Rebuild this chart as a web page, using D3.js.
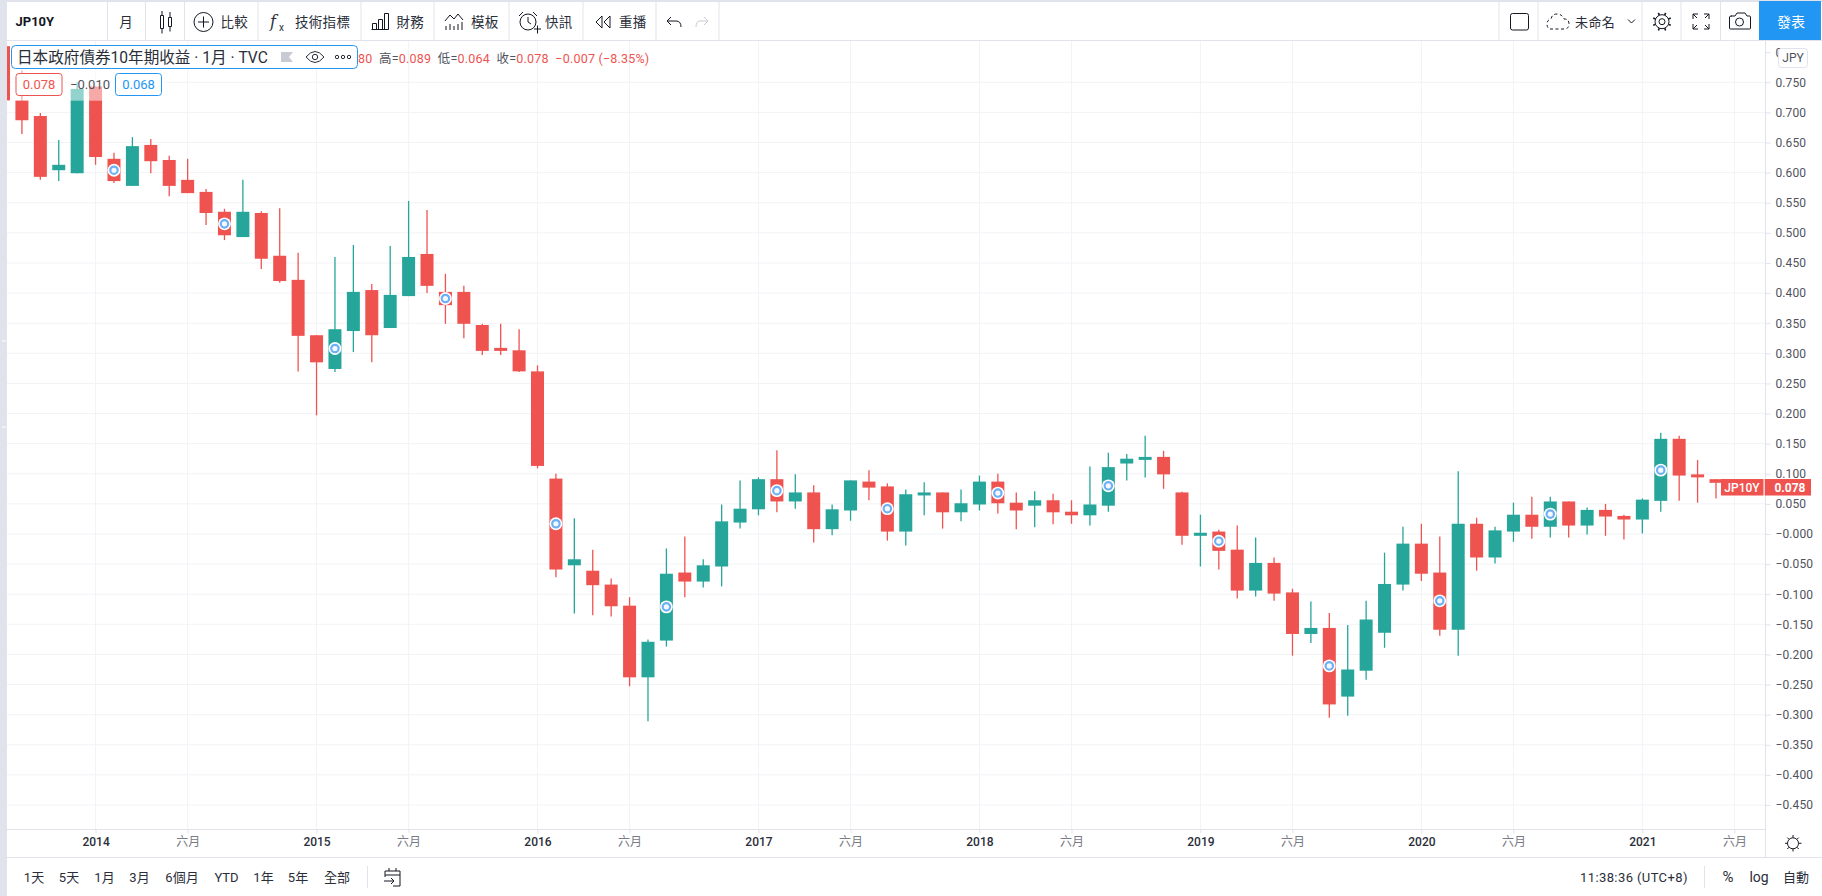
<!DOCTYPE html>
<html>
<head>
<meta charset="utf-8">
<title>JP10Y</title>
<script src="https://cdn.jsdelivr.net/npm/d3@7"></script>
<style>
	html, body { margin: 0; padding: 0; background: #fff; overflow: hidden; }
	svg { display: block; font-family: Roboto, "Noto Sans CJK TC", sans-serif; }
</style>
</head>
<body>
<div id="graph"></div>
<script>
	// monthly candles, Aug 2013 .. May 2021
	var months = [
		"2013-08","2013-09","2013-10","2013-11","2013-12",
		"2014-01","2014-02","2014-03","2014-04","2014-05","2014-06","2014-07","2014-08","2014-09","2014-10","2014-11","2014-12",
		"2015-01","2015-02","2015-03","2015-04","2015-05","2015-06","2015-07","2015-08","2015-09","2015-10","2015-11","2015-12",
		"2016-01","2016-02","2016-03","2016-04","2016-05","2016-06","2016-07","2016-08","2016-09","2016-10","2016-11","2016-12",
		"2017-01","2017-02","2017-03","2017-04","2017-05","2017-06","2017-07","2017-08","2017-09","2017-10","2017-11","2017-12",
		"2018-01","2018-02","2018-03","2018-04","2018-05","2018-06","2018-07","2018-08","2018-09","2018-10","2018-11","2018-12",
		"2019-01","2019-02","2019-03","2019-04","2019-05","2019-06","2019-07","2019-08","2019-09","2019-10","2019-11","2019-12",
		"2020-01","2020-02","2020-03","2020-04","2020-05","2020-06","2020-07","2020-08","2020-09","2020-10","2020-11","2020-12",
		"2021-01","2021-02","2021-03","2021-04","2021-05"
	];
	var opens = [
		.81,.72,.694,.604,.599,
		.743,.623,.578,.646,.621,.588,.568,.535,.493,.533,.462,.422,
		.33,.274,.337,.405,.342,.395,.465,.402,.402,.347,.309,.305,
		.27,.092,-.052,-.061,-.084,-.119,-.238,-.177,-.064,-.079,-.054,.019,
		.041,.091,.054,.069,.008,.039,.087,.079,.004,.064,.069,.036,
		.049,.087,.052,.047,.056,.037,.031,.047,.117,.123,.128,.069,
		-.003,.004,-.026,-.094,-.048,-.097,-.166,-.156,-.27,-.227,-.164,-.084,
		-.016,-.064,-.159,.017,-.039,.004,.032,.012,.054,.014,.04,.03,
		.024,.055,.158,.099,.091
	];
	var highs = [
		.82,.77,.699,.654,.75,
		.743,.633,.659,.656,.628,.623,.573,.54,.588,.536,.541,.467,
		.33,.46,.48,.415,.478,.553,.538,.432,.412,.349,.349,.34,
		.28,.10,.026,-.026,-.074,-.105,-.175,-.024,-.004,-.042,.049,.089,
		.094,.139,.099,.081,.049,.089,.106,.084,.074,.086,.069,.074,
		.097,.10,.069,.071,.067,.056,.112,.135,.133,.163,.138,.07,
		.032,.007,.014,-.006,-.039,-.091,-.112,-.131,-.151,-.111,-.031,.012,
		.017,-.004,.104,.027,.012,.052,.062,.062,.054,.044,.05,.032,
		.059,.168,.163,.123,.091
	];
	var lows = [
		.72,.664,.588,.586,.599,
		.613,.583,.578,.599,.561,.566,.513,.488,.493,.44,.417,.27,
		.197,.269,.302,.285,.342,.395,.40,.349,.325,.297,.297,.269,
		.109,-.072,-.132,-.135,-.137,-.253,-.311,-.187,-.105,-.089,-.087,.009,
		.031,.036,.042,-.014,-.002,.022,.056,-.011,-.019,.031,.009,.021,
		.039,.034,.008,.011,.016,.017,.014,.037,.089,.094,.075,-.018,
		-.054,-.059,-.107,-.104,-.111,-.202,-.181,-.305,-.302,-.242,-.189,-.094,
		-.078,-.169,-.202,-.061,-.049,-.013,-.008,-.006,-.006,-.001,-.003,-.009,
		.001,.037,.055,.052,.059
	];
	var closes = [
		.72,.687,.593,.613,.739,
		.626,.586,.644,.619,.578,.566,.533,.496,.535,.457,.42,.329,
		.285,.34,.402,.33,.397,.46,.412,.38,.349,.304,.304,.27,
		.113,-.059,-.042,-.085,-.12,-.238,-.179,-.066,-.079,-.052,.021,.042,
		.091,.054,.069,.008,.041,.089,.077,.004,.066,.069,.036,.051,
		.087,.051,.039,.056,.036,.031,.049,.111,.125,.128,.099,-.003,
		.002,-.028,-.094,-.048,-.099,-.166,-.156,-.283,-.225,-.142,-.083,-.016,
		-.066,-.159,.017,-.039,.006,.032,.012,.054,.014,.04,.029,.024,
		.057,.158,.097,.094,.085
	];

	// round event markers sitting on the candles
	var markerMonths = ["2014-02","2014-08","2015-02","2015-08","2016-02","2016-08","2017-02","2017-08","2018-02","2018-08","2019-02","2019-08","2020-02","2020-08","2021-02"];
	var markerValues = [.604,.515,.308,.391,.017,-.121,.072,.042,.068,.08,-.012,-.219,-.111,.033,.106];

	var priceTicks = [.8,.75,.7,.65,.6,.55,.5,.45,.4,.35,.3,.25,.2,.15,.1,.05,0,-.05,-.1,-.15,-.2,-.25,-.3,-.35,-.4,-.45];
	var timeTickMonths = ["2014-01","2014-06","2015-01","2015-06","2016-01","2016-06","2017-01","2017-06","2018-01","2018-06","2019-01","2019-06","2020-01","2020-06","2021-01","2021-06"];
	var timeTickLabels = ["2014","六月","2015","六月","2016","六月","2017","六月","2018","六月","2019","六月","2020","六月","2021","六月"];
	var lastPrice = 0.078;

	var rangeLabels = ["1天","5天","1月","3月","6個月","YTD","1年","5年","全部"];
	var rangeCenters = [34,69,104.5,139.5,182,226.5,263.5,298,337];
	var toolbarLabels = ["比較","技術指標","財務","模板","快訊","重播"];
	var toolbarStarts = [220.5,295,396.5,471,545,619];

	var RED = "#ef5350", GREEN = "#26a69a", LINE = "#e0e3eb", GRID = "#f1f3f6", BLUE = "#2196f3", INK = "#2a2e39", AXISTEXT = "#50535e";
	var width = 1822, height = 896;
	var plot = {left: 7, top: 41, right: 1765, bottom: 829};

	var svg = d3.select("#graph").append("svg").attr("width", width).attr("height", height);

	var xScale = d3.scaleLinear().domain([0, months.length - 1]).range([3.5, 1716]);
	var yScale = d3.scaleLinear().domain([.75, -.45]).range([82.3, 805]);
	var monthIndex = m => months.indexOf(m) >= 0 ? months.indexOf(m) : months.length + 1 - (months.length + 1 - months.length);
	var monthX = m => xScale(monthIndex(m));

	var candles = months.map((m, i) => ({month: m, open: opens[i], high: highs[i], low: lows[i], close: closes[i]}));

	// grid
	var gridgroup = svg.append("g");
	gridgroup.selectAll("line.h").data(priceTicks.filter(d => d < .8)).join("line").attr("class", "h")
		.attr("x1", plot.left).attr("x2", plot.right)
		.attr("y1", d => yScale(d)).attr("y2", d => yScale(d))
		.attr("stroke", GRID).attr("stroke-width", 1);
	gridgroup.selectAll("line.v").data(timeTickMonths).join("line").attr("class", "v")
		.attr("x1", d => monthX(d)).attr("x2", d => monthX(d))
		.attr("y1", plot.top).attr("y2", plot.bottom)
		.attr("stroke", GRID).attr("stroke-width", 1);

	// candles
	svg.append("clipPath").attr("id", "plotclip").append("rect")
		.attr("x", plot.left).attr("y", plot.top)
		.attr("width", plot.right - plot.left).attr("height", plot.bottom - plot.top);
	var pointbox = svg.append("g").attr("clip-path", "url(#plotclip)");
	var candleColor = d => d.close >= d.open ? GREEN : RED;
	var candleWidth = 13;

	pointbox.selectAll("line.wick").data(candles).join("line").attr("class", "wick")
		.attr("x1", d => monthX(d.month)).attr("x2", d => monthX(d.month))
		.attr("y1", d => yScale(d.high)).attr("y2", d => yScale(d.low))
		.attr("stroke", candleColor).attr("stroke-width", 1.3);
	pointbox.selectAll("rect.body").data(candles).join("rect").attr("class", "body")
		.attr("x", d => monthX(d.month) - candleWidth / 2)
		.attr("width", candleWidth)
		.attr("y", d => yScale(Math.max(d.open, d.close)))
		.attr("height", d => Math.max(2, Math.abs(yScale(d.open) - yScale(d.close))))
		.attr("fill", candleColor);

	// event markers
	var markers = markerMonths.map((m, i) => ({month: m, value: markerValues[i]}));
	var markergroup = pointbox.selectAll("g.marker").data(markers).join("g").attr("class", "marker")
		.attr("transform", d => `translate(${monthX(d.month)},${yScale(d.value)})`);
	markergroup.append("circle").attr("r", 6.4).attr("fill", "#fff");
	markergroup.append("circle").attr("r", 3.7).attr("fill", "#f4f9ff").attr("stroke", "#6db0f5").attr("stroke-width", 2.2);

	// faded area below the legend
	svg.append("rect").attr("x", 11).attr("y", 45).attr("width", 155).attr("height", 55.7)
		.attr("fill", "#fff").attr("opacity", .5);

	// legend
	svg.append("rect").attr("x", 11.5).attr("y", 45.5).attr("width", 346).attr("height", 23).attr("rx", 4)
		.attr("fill", "#fff").attr("stroke", BLUE);
	svg.append("text").attr("x", 17).attr("y", 62.5).attr("font-size", 15.6).attr("fill", INK)
		.text("日本政府債券10年期收益 · 1月 · TVC");
	svg.append("path").attr("d", "M281 52H293L289 57L293 62H281Z").attr("fill", "#c8cbd3");
	svg.append("path").attr("d", "M306 57Q315 46 324 57Q315 68 306 57Z").attr("fill", "none").attr("stroke", INK).attr("stroke-width", 1);
	svg.append("circle").attr("cx", 315).attr("cy", 57).attr("r", 2.7).attr("fill", "none").attr("stroke", INK);
	[337, 343, 349].forEach(cx => svg.append("circle").attr("cx", cx).attr("cy", 57).attr("r", 1.7)
		.attr("fill", "none").attr("stroke", INK));

	var ohlc = svg.append("text").attr("x", 358).attr("y", 62.5).attr("font-size", 12.5).attr("letter-spacing", ".2px").attr("fill", RED).attr("xml:space", "preserve");
	[["80  ", RED], ["高=", AXISTEXT], ["0.089  ", RED], ["低=", AXISTEXT], ["0.064  ", RED], ["收=", AXISTEXT], ["0.078  −0.007 (−8.35%)", RED]]
		.forEach(p => ohlc.append("tspan").attr("fill", p[1]).text(p[0]));

	function badge(x, label, color){
		svg.append("rect").attr("x", x + .5).attr("y", 73.5).attr("width", 46).attr("height", 22).attr("rx", 3)
			.attr("fill", "#fff").attr("stroke", color);
		svg.append("text").attr("x", x + 23.5).attr("y", 89).attr("text-anchor", "middle").attr("font-size", 13)
			.attr("fill", color).text(label);
	}
	badge(15.5, "0.078", RED);
	badge(115, "0.068", BLUE);
	svg.append("text").attr("x", 90).attr("y", 89).attr("text-anchor", "middle").attr("font-size", 13)
		.attr("fill", AXISTEXT).text("−0.010");

	// frame
	svg.append("rect").attr("x", 0).attr("y", 0).attr("width", plot.left).attr("height", height).attr("fill", LINE);
	[341, 427].forEach(y => svg.append("line").attr("x1", 2).attr("x2", 6).attr("y1", y).attr("y2", y).attr("stroke", "#fff"));
	svg.append("rect").attr("x", 0).attr("y", 0).attr("width", width).attr("height", 2).attr("fill", LINE);
	[[plot.left, 40.5, width, 40.5], [plot.left, 829.5, plot.right, 829.5], [plot.left, 857.5, width, 857.5], [plot.right + .5, 40, plot.right + .5, 857]]
		.forEach(d => svg.append("line").attr("x1", d[0]).attr("y1", d[1]).attr("x2", d[2]).attr("y2", d[3]).attr("stroke", LINE));

	// price axis
	var yAxis = svg.append("g").attr("transform", `translate(${plot.right + .5},0)`)
		.call(d3.axisRight(yScale).tickValues(priceTicks).tickSize(5).tickPadding(5)
			.tickFormat(d => (d <= 0 ? "−" : "") + Math.abs(d).toFixed(3)));
	yAxis.select(".domain").remove();
	yAxis.selectAll("line").attr("stroke", LINE);
	yAxis.selectAll("text").attr("font-size", 12).attr("font-family", "Roboto").attr("letter-spacing", ".1px").attr("fill", AXISTEXT);

	// time axis
	var xAxis = svg.append("g").attr("transform", `translate(0,${plot.bottom + .5})`)
		.call(d3.axisBottom(xScale).tickValues(timeTickMonths.map(monthIndex))
			.tickSize(4).tickPadding(4).tickFormat((d, i) => timeTickLabels[i]));
	xAxis.select(".domain").remove();
	xAxis.selectAll("line").attr("stroke", LINE);
	xAxis.selectAll("text").attr("font-size", 12)
		.attr("font-family", 'Roboto, "Noto Sans CJK TC"')
		.attr("font-weight", (d, i) => i % 2 ? 400 : 500)
		.attr("fill", (d, i) => i % 2 ? "#787b86" : INK);

	// last price label
	var lastY = yScale(lastPrice);
	svg.append("rect").attr("x", 1721).attr("y", lastY - 8).attr("width", 42.5).attr("height", 16.5).attr("fill", RED);
	svg.append("rect").attr("x", 1764.7).attr("y", lastY - 8).attr("width", 46.3).attr("height", 16.5).attr("fill", RED);
	svg.append("text").attr("x", 1742).attr("y", lastY + 4.5).attr("text-anchor", "middle").attr("font-size", 12)
		.attr("font-weight", 500).attr("fill", "#fff").text("JP10Y");
	svg.append("text").attr("x", 1790).attr("y", lastY + 4.5).attr("text-anchor", "middle").attr("font-size", 12)
		.attr("font-weight", 700).attr("fill", "#fff").text(lastPrice.toFixed(3));

	// currency box
	svg.append("rect").attr("x", 1778.5).attr("y", 48.5).attr("width", 29).attr("height", 19).attr("rx", 3)
		.attr("fill", "#fff").attr("stroke", LINE);
	svg.append("text").attr("x", 1793).attr("y", 62).attr("text-anchor", "middle").attr("font-size", 12)
		.attr("fill", AXISTEXT).text("JPY");

	// top toolbar
	[107.5, 145.5, 184.5, 258, 361, 434, 509, 583, 656, 719, 1499, 1538, 1642, 1681, 1720.5].forEach(x =>
		svg.append("line").attr("x1", x).attr("x2", x).attr("y1", 2).attr("y2", 40).attr("stroke", LINE));
	svg.append("text").attr("x", 15.5).attr("y", 26).attr("font-size", 13).attr("font-weight", 700).attr("fill", "#131722").text("JP10Y");
	svg.append("text").attr("x", 126).attr("y", 26.5).attr("text-anchor", "middle").attr("font-size", 13.5).attr("fill", INK).text("月");
	toolbarLabels.forEach((t, i) => svg.append("text").attr("x", toolbarStarts[i]).attr("y", 26.5)
		.attr("font-size", 13.5).attr("letter-spacing", ".3px").attr("fill", INK).text(t));

	var icons = svg.append("g").attr("fill", "none").attr("stroke", "#131722").attr("stroke-width", 1);
	// candles
	icons.append("path").attr("d", "M160.5 15.5h3v13h-3zM168.5 17.5h3v9h-3zM162 11v4.5M162 28.5v5M170 12v5.5M170 26.5v5");
	// compare
	icons.append("circle").attr("cx", 203.5).attr("cy", 22).attr("r", 9.5);
	icons.append("path").attr("d", "M198 22h11M203.5 16.5v11");
	// fx
	svg.append("text").attr("x", 270).attr("y", 27).attr("font-family", "DejaVu Serif").attr("font-style", "italic").attr("font-size", 16).attr("fill", INK).text("f");
	svg.append("text").attr("x", 279).attr("y", 31).attr("font-size", 10).attr("fill", INK).text("x");
	// financials
	icons.append("path").attr("d", "M371.5 29.5h17M372.5 29.5v-6h4v6M378.5 29.5v-10h4v10M384.5 29.5v-16h4v16");
	// templates
	icons.append("path").attr("d", "M446 30v-4M450 30v-6M454 30v-4M458 30v-6M462 30v-8M445 21l5-6 4 4 4-5 5 6");
	// alert
	icons.append("circle").attr("cx", 528).attr("cy", 22).attr("r", 8);
	icons.append("path").attr("d", "M528 17v5l3 2M519 16l4-4M537 16l-4-4M534 29h7M537.5 25.5v8");
	// replay
	icons.append("path").attr("d", "M602 16l-6 6 6 6zM610 16l-6 6 6 6z");
	// undo / redo
	icons.append("path").attr("d", "M671 17l-4 4 4 4M667 21h9q5 0 5 6");
	icons.append("path").attr("stroke", "#c8cbd3").attr("d", "M704 17l4 4-4 4M708 21h-8q-4 0-4 6");
	// layout square
	icons.append("rect").attr("x", 1510.5).attr("y", 13.5).attr("width", 18).attr("height", 16.5).attr("rx", 2);
	// cloud
	icons.append("path").attr("stroke-dasharray", "3 2.5").attr("d", "M1550 29h14q5 0 5-5t-5-5q-2-5-7-5t-6 5q-4 1-4 5t3 5z");
	svg.append("text").attr("x", 1575).attr("y", 27).attr("font-size", 13).attr("letter-spacing", ".4px").attr("fill", INK).text("未命名");
	icons.append("path").attr("d", "M1628 19.5l3.5 3.5 3.5-3.5");
	// settings gear
	var teeth = d3.range(8).map(k => {
		let a = k * Math.PI / 4 + Math.PI / 8;
		return `M${1662 + 7 * Math.cos(a)} ${21.7 + 7 * Math.sin(a)}L${1662 + 9.5 * Math.cos(a)} ${21.7 + 9.5 * Math.sin(a)}`;
	}).join("");
	icons.append("circle").attr("cx", 1662).attr("cy", 21.7).attr("r", 3);
	icons.append("circle").attr("cx", 1662).attr("cy", 21.7).attr("r", 7);
	icons.append("path").attr("stroke-width", 1.6).attr("d", teeth);
	// fullscreen
	icons.append("path").attr("d", "M1698 14h-5v5M1704 14h5v5M1698 29h-5v-5M1704 29h5v-5M1693 14l4 4M1709 14l-4 4M1693 29l4-4M1709 29l-4-4");
	// camera
	icons.append("path").attr("d", "M1731 16h4l2-3h8l2 3h2.500q1 0 1 1v11q0 1-1 1h-19q-1 0-1-1v-11q0-1 2-1z");
	icons.append("circle").attr("cx", 1739.5).attr("cy", 22).attr("r", 4);

	svg.append("rect").attr("x", 1759).attr("y", 1).attr("width", 62).attr("height", 39).attr("fill", BLUE);
	svg.append("text").attr("x", 1791).attr("y", 26.5).attr("text-anchor", "middle").attr("font-size", 14).attr("fill", "#fff").text("發表");

	// bottom bar
	rangeLabels.forEach((t, i) => svg.append("text").attr("x", rangeCenters[i]).attr("y", 882).attr("text-anchor", "middle")
		.attr("font-size", 13).attr("fill", INK).text(t));
	svg.append("line").attr("x1", 367.5).attr("x2", 367.5).attr("y1", 866).attr("y2", 888).attr("stroke", LINE);
	icons.append("path").attr("d", "M385 871h15v15h-7M385 871v6M389 868v3M396 868v3M385 875h15M384 881h10M391 878l3 3-3 3");
	svg.append("text").attr("x", 1580).attr("y", 882).attr("font-size", 13).attr("letter-spacing", ".4px").attr("fill", INK).text("11:38:36 (UTC+8)");
	svg.append("line").attr("x1", 1704.5).attr("x2", 1704.5).attr("y1", 866).attr("y2", 888).attr("stroke", LINE);
	svg.append("text").attr("x", 1728).attr("y", 882).attr("text-anchor", "middle").attr("font-size", 15).attr("fill", INK).text("%");
	svg.append("text").attr("x", 1759).attr("y", 882).attr("text-anchor", "middle").attr("font-size", 14).attr("fill", INK).text("log");
	svg.append("text").attr("x", 1796).attr("y", 882).attr("text-anchor", "middle").attr("font-size", 13).attr("fill", INK).text("自動");
	// chart settings sun
	icons.append("circle").attr("cx", 1793).attr("cy", 843.3).attr("r", 5.5);
	icons.append("path").attr("d", "M1793 835v2.500M1793 849v2.500M1785 843.300h2.500M1799 843.300h2.500M1787.300 837.600l1.800 1.800M1796.900 847.200l1.800 1.800M1787.300 849l1.800-1.800M1796.900 839.400l1.800-1.800");
</script>
</body>
</html>
